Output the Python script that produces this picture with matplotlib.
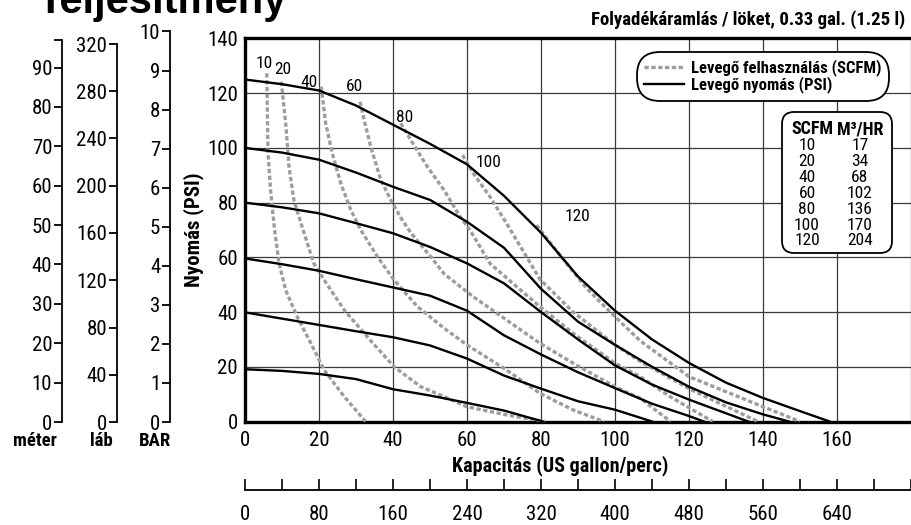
import matplotlib
matplotlib.use("Agg")
import matplotlib.pyplot as plt
from matplotlib.patches import FancyBboxPatch

NARROW = ['Liberation Sans Narrow', 'Roboto Condensed', 'Liberation Sans', 'DejaVu Sans']
plt.rcParams['font.family'] = NARROW

# --- data (gpm, psi) ---
psi_s125 = [(0, 125), (10, 123.3), (20, 121), (30, 115.5), (40, 108.5), (50, 101.5), (60, 94),
            (70, 82.5), (80, 69), (90, 53), (100, 40.5), (110, 30), (120, 21.4), (130, 14.2),
            (140, 8.6), (150, 3.8), (158, 0)]
psi_s100 = [(0, 100), (10, 98.3), (20, 95.7), (30, 91), (40, 85.8), (50, 81), (60, 73), (70, 63.5),
            (80, 48.5), (90, 36.5), (100, 28), (110, 20), (120, 12.7), (130, 7), (140, 2.6), (147, 0)]
psi_s80 = [(0, 80), (10, 78.3), (20, 76.1), (30, 72.5), (40, 68.8), (50, 63.8), (60, 57.8), (70, 50.5),
           (80, 40), (90, 30), (100, 20.5), (110, 13.5), (120, 8), (130, 3), (136, 0)]
psi_s60 = [(0, 59.6), (10, 57.5), (20, 55.1), (30, 52), (40, 49), (50, 46), (60, 40.5), (70, 31.5),
           (80, 24.5), (90, 18), (100, 12.2), (110, 6.5), (120, 2), (124, 0)]
psi_s40 = [(0, 39.9), (10, 37.6), (20, 35.3), (30, 33), (40, 30.8), (50, 27.8), (60, 23), (70, 16.8),
           (80, 12), (90, 7.4), (100, 4.3), (110, 0)]
psi_s20 = [(0, 19.1), (10, 18.5), (20, 17.4), (30, 15.5), (40, 11.8), (50, 9.5), (60, 6.8), (70, 4),
           (80.5, 0)]
pressure_curves = [psi_s125, psi_s100, psi_s80, psi_s60, psi_s40, psi_s20]

scfm_10 = [(5.9, 127.3), (6.2, 99), (6.9, 84.6), (8, 70), (9.2, 57.8), (11, 48), (14.1, 38.3),
           (17.8, 28.6), (21.4, 18.8), (26.8, 9.1), (32.6, 0)]
scfm_20 = [(9.8, 124.2), (11, 109), (11.9, 93.1), (13.2, 81), (15.7, 70), (18.6, 57.8), (21.4, 51.7),
           (26.8, 40.8), (33, 31), (40.3, 20), (47.5, 12.7), (53.8, 9.1), (60, 5.4), (70.7, 2.4),
           (81, 0)]
scfm_40 = [(20.6, 122.4), (21.8, 109), (23.6, 98), (25.9, 87), (28.6, 77.3), (31.3, 70), (35.8, 60.2),
           (40.3, 51.7), (46.6, 42), (53.8, 34.1), (60, 28), (70.7, 18.8), (79.7, 10.3), (88.7, 4.2),
           (97, 0)]
scfm_60 = [(31.1, 116.9), (32.2, 110.2), (34, 100.4), (36.7, 88.3), (39.4, 81), (42.1, 74.5),
           (44.8, 69), (50.2, 60.2), (53.8, 54), (61.7, 45.6), (70.7, 37.1), (79.7, 28.6),
           (88.7, 21.3), (100, 12.7), (106.8, 8.5), (115, 0)]
scfm_80 = [(42.1, 109), (44.8, 102.9), (49.3, 93.1), (53.8, 84.6), (58.1, 74.9), (60.8, 70),
           (66.2, 57.8), (73.4, 49.3), (79.7, 42), (88.7, 32.2), (100, 21.3), (106.8, 16.4),
           (115, 9), (126.4, 0)]
scfm_100 = [(58.8, 97.4), (61.7, 90.7), (66.2, 82.2), (70.7, 72.4), (76.1, 60.2), (79.7, 52),
            (88.7, 40), (100, 28), (106.8, 22), (120, 12), (138.6, 0)]
scfm_120 = [(78.8, 71.8), (83.3, 63.9), (92.3, 48.7), (100, 38.3), (106.8, 29.5), (120, 16.4),
            (140, 5.4), (150, 0)]
air_curves = [scfm_10, scfm_20, scfm_40, scfm_60, scfm_80, scfm_100, scfm_120]
air_labels = ['10', '20', '40', '60', '80', '100', '120']
air_label_pos = [(5.1, 130.7), (10.3, 128.5), (17.3, 123.8), (29.7, 122.4), (43.2, 111.2),
                 (65.8, 94.6), (89.8, 75.1)]

table_scfm = [10, 20, 40, 60, 80, 100, 120]
table_m3hr = [17, 34, 68, 102, 136, 170, 204]

x_ticks = list(range(0, 181, 20))
x_ticklabels = [str(v) for v in x_ticks[:-1]] + ['']
y_ticks = list(range(0, 141, 20))
lpm_major = list(range(0, 721, 80))
lpm_labels = [str(v) for v in lpm_major[:-1]] + ['']
lpm_minor = list(range(40, 721, 80))

meter_ticks = list(range(0, 91, 10))
lab_ticks = list(range(0, 321, 40))
bar_ticks = list(range(0, 11))

W, H = 911, 525
def fx(px):
    return px / W
def fy(py):
    return 1 - py / H

fig = plt.figure(figsize=(W / 100, H / 100), dpi=100)

# main chart
ax = fig.add_axes([fx(245), fy(421.5), (911 - 245) / W, (421.5 - 38.5) / H])
ax.set_xlim(0, 180)
ax.set_ylim(0, 140)
ax.set_xticks(x_ticks)
ax.set_xticklabels(x_ticklabels)
ax.set_yticks(y_ticks)
ax.grid(True, color='#3a3a3a', lw=0.9)
ax.set_axisbelow(True)
ax.tick_params(length=0, labelsize=15, pad=5)
ax.tick_params(axis='x', pad=7)
for s in ['left', 'bottom', 'top']:
    ax.spines[s].set_linewidth(2.4)
ax.spines['right'].set_visible(False)

dash_style = (0, (1.3, 0.75))
air_lines = []
for pts in air_curves:
    xs = [p[0] for p in pts]
    ys = [p[1] for p in pts]
    ln, = ax.plot(xs, ys, color='#9d9d9d', lw=2.4, linestyle=dash_style, zorder=3,
                  dash_capstyle='butt', dash_joinstyle='round')
    air_lines.append(ln)
psi_lines = []
for pts in pressure_curves:
    xs = [p[0] for p in pts]
    ys = [p[1] for p in pts]
    ln, = ax.plot(xs, ys, color='black', lw=1.7, zorder=4, solid_joinstyle='round')
    psi_lines.append(ln)

for lab, (lx, ly) in zip(air_labels, air_label_pos):
    ax.text(lx, ly, lab, fontsize=12.5, ha='center', va='center', zorder=5)

ax.set_ylabel('Nyomás (PSI)', fontsize=15, fontweight='bold', labelpad=2)
fig.text(fx(560), fy(466), 'Kapacitás (US gallon/perc)', fontsize=14.5, fontweight='bold',
         ha='center', va='center')

leg = ax.legend([air_lines[0], psi_lines[0]],
                ['Levegő felhasználás (SCFM)', 'Levegő nyomás (PSI)'],
                loc='upper right', bbox_to_anchor=(fx(894), fy(47)), bbox_transform=fig.transFigure,
                prop={'family': NARROW, 'weight': 'bold', 'size': 12},
                handlelength=2.4, handletextpad=0.4, labelspacing=0.0, borderpad=0.25,
                frameon=True, fancybox=True, framealpha=1, edgecolor='black')
leg.get_frame().set_linewidth(1.3)
leg.get_frame().set_boxstyle('round', pad=0.2, rounding_size=1.4)
leg.set_zorder(10)

# lower axis (litres / minute)
axb = fig.add_axes([fx(245), fy(490), (911 - 245) / W, 0.0001])
axb.set_xlim(0, 720)
axb.set_xticks(lpm_major)
axb.set_xticklabels(lpm_labels)
axb.set_xticks(lpm_minor, minor=True)
axb.set_yticks([])
for s in ['left', 'right', 'top']:
    axb.spines[s].set_visible(False)
axb.spines['bottom'].set_linewidth(1.3)
axb.tick_params(axis='x', which='both', direction='in', length=8, width=1.2, labelsize=15, pad=11)
axb.patch.set_visible(False)

# left unit axes
def side_axis(xpx, top_px, ymax, ticks, extra_top):
    a = fig.add_axes([fx(xpx), fy(422), 0.0005, (422 - top_px) / H])
    a.set_ylim(0, ymax)
    a.set_yticks(ticks)
    if extra_top:
        a.set_yticks([ymax], minor=True)
    a.set_xticks([])
    for s in ['right', 'top', 'bottom']:
        a.spines[s].set_visible(False)
    a.spines['left'].set_linewidth(1.3)
    a.tick_params(axis='y', which='both', direction='out', length=6, width=1.3, pad=1, labelsize=15)
    a.patch.set_visible(False)
    return a

side_axis(62, 40, 97, meter_ticks, True)
side_axis(117, 44, 320, lab_ticks, False)
side_axis(170, 31.5, 10, bar_ticks, False)
for txt, xpx in [('méter', 35), ('láb', 101), ('BAR', 155)]:
    fig.text(fx(xpx), fy(441), txt, fontsize=13.5, fontweight='bold', ha='center', va='center')

# titles
fig.text(fx(38), fy(13), 'Teljesítmény', fontsize=30, fontweight='bold',
         family=['Liberation Sans', 'DejaVu Sans'], ha='left', va='baseline')
fig.text(fx(905), fy(20), 'Folyadékáramlás / löket, 0.33 gal. (1.25 l)', fontsize=13.5,
         fontweight='bold', ha='right', va='center')

# SCFM / M3/HR table
ov = fig.add_axes([0, 0, 1, 1])
ov.set_xlim(0, W)
ov.set_ylim(H, 0)
ov.axis('off')
ov.add_patch(FancyBboxPatch((782, 112), 110, 141, boxstyle='round,pad=0,rounding_size=12',
                            facecolor='white', edgecolor='black', lw=1.3))
ov.text(812, 129, 'SCFM', fontsize=13, fontweight='bold', ha='center', va='center')
ov.text(860, 129, 'M³/HR', fontsize=13, fontweight='bold', ha='center', va='center')
for i, (a, b) in enumerate(zip(table_scfm, table_m3hr)):
    yy = 146 + i * 15.8
    ov.text(807, yy, str(a), fontsize=12.5, ha='center', va='center')
    ov.text(860, yy, str(b), fontsize=12.5, ha='center', va='center')

fig.savefig('out.png', dpi=100)
